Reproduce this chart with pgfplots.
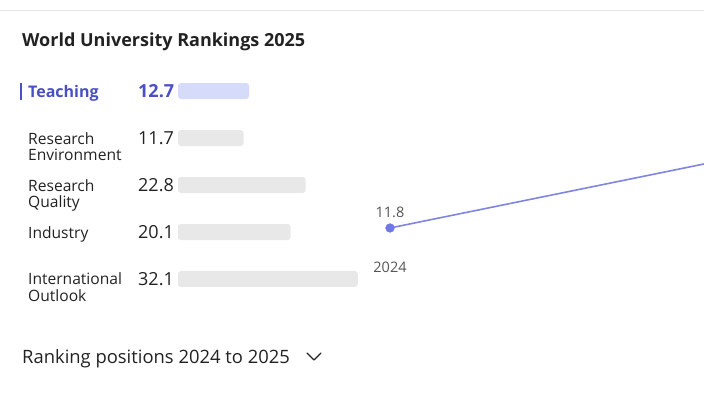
\documentclass[border=0pt]{standalone}
\usepackage{pgfplots}
\pgfplotsset{compat=1.18}
\usepackage{fontspec}
\setmainfont{Open Sans}
\definecolor{txt}{HTML}{222222}
\definecolor{teach}{HTML}{4A4FC4}
\definecolor{teachbar}{HTML}{D7DBFA}
\definecolor{graybar}{HTML}{E8E8E8}
\definecolor{linec}{HTML}{7F85E0}
\definecolor{dotc}{HTML}{7078E6}
\definecolor{sub}{HTML}{555555}
\definecolor{rule}{HTML}{E6E6E6}
\pgfplotstableread{
idx val
0 12.7
1 11.7
2 22.8
3 20.1
4 32.1
}\scores
\pgfplotstableread{
year val
2024 11.8
2025 12.7
}\trend
\begin{document}
\begin{tikzpicture}[x=1pt,y=1pt]
\path[use as bounding box] (0,0) rectangle (704,-396);
\draw[rule, line width=1pt] (0,-11) -- (704,-11);
\node[anchor=base west, font=\fontsize{18}{20}\selectfont\bfseries, text=txt, inner sep=0pt] at (22,-46.5) {World University Rankings 2025};
\node[anchor=base west, font=\fontsize{18.4}{20}\selectfont, text=txt, inner sep=0pt] at (22,-363.5) {Ranking positions 2024 to 2025};
\draw[txt, line width=1.4pt, line cap=round, line join=round] (307,-353) -- (314,-360) -- (321,-353);
\begin{axis}[
  at={(178pt,-67.5pt)}, anchor=north west,
  scale only axis, width=360pt, height=235pt,
  xmin=0, xmax=64.2857, ymin=-0.5, ymax=4.5, y dir=reverse,
  hide axis, clip=false,
  xbar, bar width=16pt, bar shift=0pt,
]
\addplot[fill=teachbar, draw=none, rounded corners=3pt] table[x=val, y=idx, restrict expr to domain={\thisrow{idx}}{0:0}] {\scores};
\addplot[fill=graybar, draw=none, rounded corners=3pt] table[x=val, y=idx, restrict expr to domain={\thisrow{idx}}{1:4}] {\scores};
\begin{scope}[font=\fontsize{18}{20}\selectfont, inner sep=0pt]
\node[anchor=base west, text=teach, font=\fontsize{18}{20}\selectfont\bfseries] at (axis cs:-7.143,0) [yshift=-6.5pt] {12.7};
\node[anchor=base west, text=txt] at (axis cs:-7.143,1) [yshift=-6.5pt] {11.7};
\node[anchor=base west, text=txt] at (axis cs:-7.143,2) [yshift=-6.5pt] {22.8};
\node[anchor=base west, text=txt] at (axis cs:-7.143,3) [yshift=-6.5pt] {20.1};
\node[anchor=base west, text=txt] at (axis cs:-7.143,4) [yshift=-6.5pt] {32.1};
\end{scope}
\begin{scope}[font=\fontsize{15.6}{16.5}\selectfont, inner sep=0pt, text=txt]
\node[anchor=base west, text=teach, font=\fontsize{16}{17}\selectfont\bfseries] at (axis cs:-26.79,0) [yshift=-6.5pt] {Teaching};
\draw[teach, line width=1.6pt] (axis cs:-28.04,0) ++(0pt,8.5pt) -- ++(0pt,-17pt);
\node[anchor=base west, align=left] at (axis cs:-26.79,1) [yshift=-6pt] {Research};
\node[anchor=base west, align=left] at (axis cs:-26.79,1) [yshift=-22.5pt] {Environment};
\node[anchor=base west, align=left] at (axis cs:-26.79,2) [yshift=-6pt] {Research};
\node[anchor=base west, align=left] at (axis cs:-26.79,2) [yshift=-22.5pt] {Quality};
\node[anchor=base west, align=left] at (axis cs:-26.79,3) [yshift=-6.5pt] {Industry};
\node[anchor=base west, align=left] at (axis cs:-26.79,4) [yshift=-6pt] {International};
\node[anchor=base west, align=left] at (axis cs:-26.79,4) [yshift=-22.5pt] {Outlook};
\end{scope}
\end{axis}
\begin{axis}[
  at={(370pt,-240pt)}, anchor=south west,
  scale only axis, width=334pt, height=100pt,
  xmin=2023.9487, xmax=2024.8051, ymin=11.664, ymax=12.796,
  hide axis, clip mode=individual,
]
\addplot[linec, line width=1.6pt, mark=none] table[x=year, y=val] {\trend};
\addplot[only marks, color=dotc, mark=*, mark size=4.3pt, mark options={solid, line width=0.6pt, draw=dotc, fill=dotc}, clip=false] table[x=year, y=val, restrict expr to domain={\thisrow{year}}{2024:2024}] {\trend};
\node[anchor=base, text=sub, font=\fontsize{14.5}{16}\selectfont, inner sep=0pt] at (axis cs:2024,11.8) [yshift=10pt] {11.8};
\node[anchor=base, text=sub, font=\fontsize{14.5}{16}\selectfont, inner sep=0pt] at (axis cs:2024,11.8) [yshift=-45pt] {2024};
\end{axis}
\end{tikzpicture}
\end{document}
